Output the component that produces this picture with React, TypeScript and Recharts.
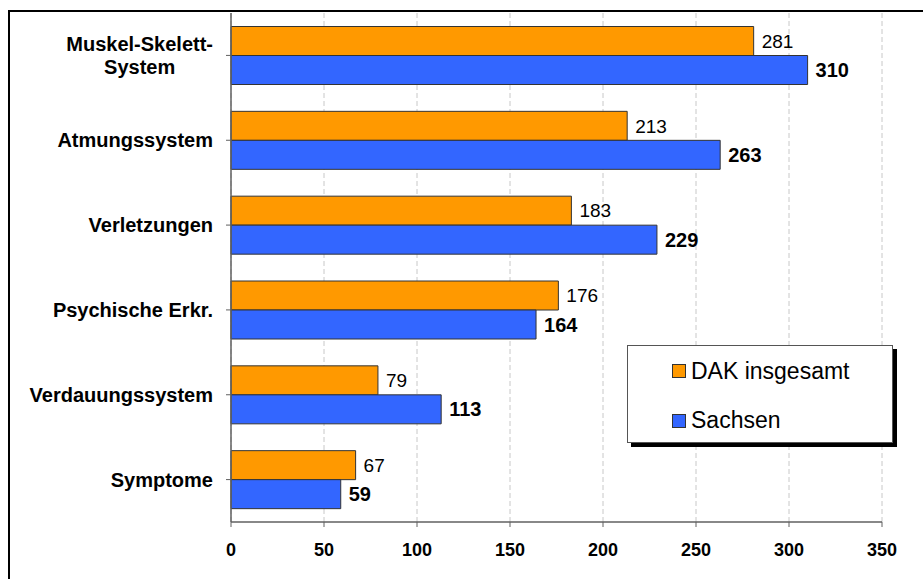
import React from 'react';
import { BarChart, Bar, XAxis, YAxis, CartesianGrid, Legend, LabelList } from 'recharts';

const categories = [
  'Muskel-Skelett-\nSystem',
  'Atmungssystem',
  'Verletzungen',
  'Psychische Erkr.',
  'Verdauungssystem',
  'Symptome',
];
const dakValues = [281, 213, 183, 176, 79, 67];
const sachsenValues = [310, 263, 229, 164, 113, 59];
const xTicks = [0, 50, 100, 150, 200, 250, 300, 350];
const seriesNames = ['DAK insgesamt', 'Sachsen'];
const seriesColors = ['#FF9900', '#3366FF'];

const data = categories.map((c, i) => ({ name: c, dak: dakValues[i], sachsen: sachsenValues[i] }));

const FONT = '"Liberation Sans", Arial, sans-serif';
const AXIS = '#606060';

let ctx: CanvasRenderingContext2D | null = null;
const measure = (t: string, font: string) => {
  if (!ctx) ctx = document.createElement('canvas').getContext('2d');
  if (!ctx) return t.length * 11;
  ctx.font = font;
  return ctx.measureText(t).width;
};

const YTick = (props: any) => {
  const { x, y, payload } = props;
  const lines = String(payload.value).split('\n');
  const lineH = 23;
  const font = `bold 20px ${FONT}`;
  if (lines.length === 1) {
    return (
      <text x={x} y={y} dy="0.355em" textAnchor="end" fontFamily={FONT} fontWeight="bold" fontSize={20} fill="#000">
        {lines[0]}
      </text>
    );
  }
  const maxW = Math.max(...lines.map((l) => measure(l, font)));
  const cx = x - maxW / 2;
  return (
    <text textAnchor="middle" fontFamily={FONT} fontWeight="bold" fontSize={20} fill="#000">
      {lines.map((l, i) => (
        <tspan key={i} x={cx} y={y + (i - (lines.length - 1) / 2) * lineH} dy="0.355em">
          {l}
        </tspan>
      ))}
    </text>
  );
};

const renderLegend = () => (
  <div
    style={{
      width: 266,
      height: 98,
      boxSizing: 'border-box',
      border: '1px solid #555',
      background: '#fff',
      boxShadow: '4px 4px 0 #000',
      fontFamily: FONT,
      fontSize: 23,
      color: '#000',
      position: 'relative',
    }}
  >
    {seriesNames.map((n, i) => (
      <div
        key={n}
        style={{ position: 'absolute', left: 44, top: 10 + i * 49.5, height: 30, display: 'flex', alignItems: 'center', whiteSpace: 'nowrap' }}
      >
        <span style={{ display: 'inline-block', width: 12, height: 12, background: seriesColors[i], border: '1px solid #333', marginRight: 5 }} />
        <span>{n}</span>
      </div>
    ))}
  </div>
);

export default function App() {
  return (
    <div style={{ position: 'absolute', left: 0, top: 0, width: 923, height: 579, overflow: 'hidden', background: '#fff' }}>
      <div style={{ position: 'absolute', left: 8, top: 10, width: 940, height: 600, borderLeft: '2px solid #000', borderTop: '2px solid #000' }} />
      <div style={{ position: 'absolute', left: 0, top: 0 }}>
        <BarChart
          width={923}
          height={579}
          data={data}
          layout="vertical"
          margin={{ top: 13, right: 41, bottom: 27, left: 0 }}
          barCategoryGap={13.5}
          barGap={0}
        >
          <CartesianGrid horizontal={false} vertical stroke="#c8c8c8" strokeDasharray="5 3" />
          <XAxis
            type="number"
            domain={[0, 350]}
            ticks={xTicks}
            interval={0}
            height={30}
            tickSize={5}
            tickMargin={16}
            axisLine={{ stroke: AXIS, strokeWidth: 1.5 }}
            tickLine={{ stroke: AXIS }}
            tick={{ fontFamily: FONT, fontWeight: 'bold', fontSize: 18, fill: '#000' }}
          />
          <YAxis
            type="category"
            dataKey="name"
            width={231}
            tickSize={5}
            tickMargin={13}
            interval={0}
            axisLine={{ stroke: AXIS, strokeWidth: 1.5 }}
            tickLine={{ stroke: AXIS }}
            tick={<YTick />}
          />
          <Legend layout="vertical" align="center" verticalAlign="middle" content={renderLegend} wrapperStyle={{ left: 627, top: 345, width: 266, height: 98 }} />
          <Bar dataKey="dak" name={seriesNames[0]} fill={seriesColors[0]} stroke="#333" strokeWidth={1} isAnimationActive={false}>
            <LabelList dataKey="dak" position="right" offset={8} fill="#000" fontFamily={FONT} fontSize={19} />
          </Bar>
          <Bar dataKey="sachsen" name={seriesNames[1]} fill={seriesColors[1]} stroke="#333" strokeWidth={1} isAnimationActive={false}>
            <LabelList dataKey="sachsen" position="right" offset={8} fill="#000" fontFamily={FONT} fontSize={20} fontWeight="bold" />
          </Bar>
        </BarChart>
      </div>
    </div>
  );
}
